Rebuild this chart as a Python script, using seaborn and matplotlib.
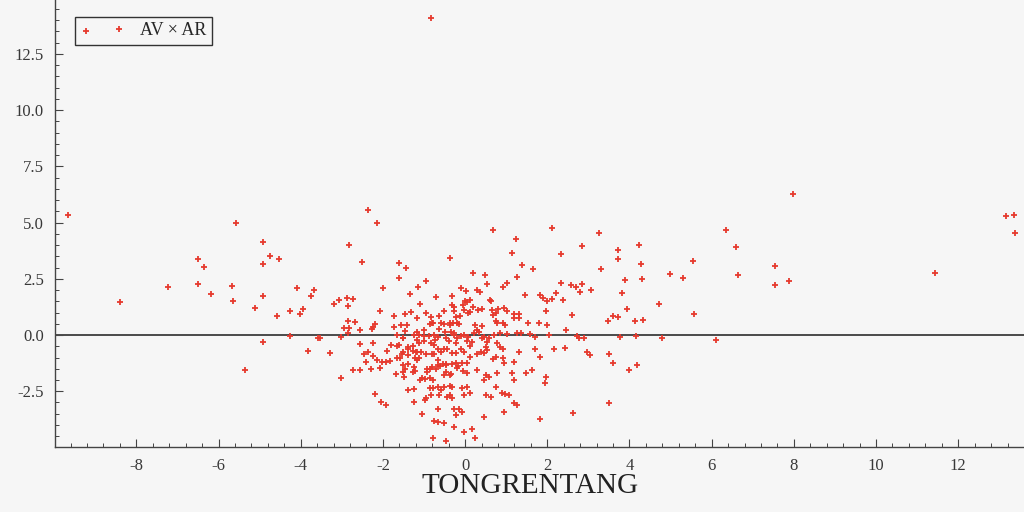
import matplotlib
matplotlib.use("Agg")
import matplotlib.pyplot as plt
import seaborn as sns
import pandas as pd
from matplotlib.ticker import MultipleLocator, FormatStrFormatter

# ---- data ----
pts_left = [
    (-9.67, 5.35), (-8.39, 1.47), (-7.22, 2.14), (-6.49, 3.37), (-6.35, 3.04), (-6.5, 2.26), (-6.18, 1.84),
    (-5.57, 5.0), (-5.67, 2.2), (-5.64, 1.51), (-5.35, -1.56), (-5.11, 1.22), (-4.92, 4.14), (-4.92, 3.15),
    (-4.74, 3.53), (-4.53, 3.37), (-4.92, 1.75), (-4.92, -0.33), (-4.58, 0.83), (-4.27, 1.08), (-4.01, 0.95),
    (-3.95, 1.16), (-4.08, 2.08), (-4.27, -0.06), (-3.75, 1.72), (-3.67, 2.02), (-3.83, -0.71), (-3.59, -0.15),
    (-3.53, -0.12), (-3.3, -0.8), (-3.02, -1.92), (-3.02, -0.1), (-3.18, 1.37), (-3.06, 1.56), (-2.88, 1.63),
    (-2.86, 1.28), (-2.83, 4.0), (-2.86, 0.61), (-2.94, 0.33), (-2.74, 1.6), (-2.68, 0.57), (-2.82, 0.31),
    (-2.86, 0.1), (-2.55, 0.21), (-2.27, 0.25), (-2.23, 0.37), (-2.19, 0.49), (-2.37, 5.55), (-2.14, 4.99),
    (-2.5, 3.24), (-1.62, 3.21), (-1.44, 2.98), (-1.62, 2.52), (-0.94, 2.41), (-0.37, 3.44), (-2.0, 2.08),
    (-1.15, 2.14), (-1.35, 1.84), (-0.71, 1.68), (-0.32, 1.75), (-0.11, 2.11), (-2.07, 1.08), (-1.74, 0.86),
    (-1.46, 0.95), (-1.32, 1.02), (-1.09, 1.37), (-0.94, 0.99), (-0.64, 0.85), (-0.51, 1.08), (-0.33, 1.32),
    (-0.26, 1.08), (-0.23, 0.79), (-1.17, 0.77), (-0.84, 14.12),
]
pts_right = [
    (0.69, 4.66), (2.11, 4.77), (1.23, 4.29), (3.26, 4.53), (1.14, 3.64), (2.85, 3.98), (2.34, 3.59),
    (3.72, 3.79), (3.72, 3.39), (1.39, 3.1), (1.66, 2.93), (0.18, 2.76), (0.48, 2.69), (1.27, 2.6),
    (0.54, 2.29), (0.91, 2.15), (1.03, 2.3), (0.01, 1.96), (0.3, 2.0), (0.36, 1.9), (0.63, 1.51), (0.0, 1.5),
    (0.13, 1.56), (1.45, 1.8), (1.82, 1.8), (1.89, 1.66), (2.0, 1.51), (2.12, 1.6), (2.22, 1.87), (2.34, 2.33),
    (2.58, 2.23), (2.71, 2.15), (2.84, 2.29), (2.79, 1.9), (3.07, 2.02), (3.3, 2.94), (2.37, 1.56), (1.98, 1.08),
    (2.6, 0.9), (3.61, 0.85), (4.24, 4.01), (4.28, 3.15), (4.31, 2.51), (3.9, 2.44), (3.81, 1.88), (4.99, 2.73),
    (5.29, 2.55), (5.54, 3.28), (6.35, 4.69), (6.6, 3.91), (6.64, 2.66), (7.55, 3.06), (7.55, 2.24), (7.88, 2.39),
    (7.97, 6.27), (11.44, 2.76), (13.16, 5.31), (13.36, 5.35), (13.39, 4.53), (3.95, 1.14), (3.47, 0.61),
    (3.72, 0.82), (4.14, 0.62), (4.34, 0.68), (4.73, 1.38), (5.58, 0.92), (2.46, 0.22), (2.43, -0.56),
    (2.72, -0.03), (2.76, -0.12), (2.9, -0.12), (2.96, -0.74), (3.03, -0.9), (3.49, -0.86), (3.59, -1.26),
    (3.77, -0.09), (4.17, -0.06), (4.0, -1.57), (4.18, -1.32), (4.79, -0.13), (6.1, -0.21), (3.5, -3.01),
    (2.62, -3.47),
]
pts_center_low = [
    (-1.73, 0.37), (-1.65, 0.0), (-2.55, -0.39), (-2.24, -0.34), (-1.91, -0.7), (-1.65, -0.49), (-2.47, -0.86),
    (-2.37, -0.76), (-2.4, -1.22), (-2.15, -1.11), (-2.03, -1.22), (-1.84, -1.17), (-2.57, -1.57), (-2.29, -1.5),
    (-2.07, -1.46), (-1.58, -1.04), (-2.2, -2.64), (-2.05, -2.97), (-1.93, -3.12),
    (-1.57, 0.43), (-1.42, 0.43), (-1.47, 0.19), (-1.5, -0.13), (-1.24, 0.0), (-1.12, 0.0), (-1.0, -0.06),
    (-0.87, -0.03), (-0.76, -0.01), (-1.17, 0.15), (-1.01, 0.22), (-0.85, 0.48), (-0.8, 0.53), (-0.63, 0.25),
    (-0.48, 0.15), (-0.35, 0.12), (-0.38, 0.43), (-0.3, 0.53), (-0.27, 0.0), (-0.19, -0.15), (-0.11, -0.03),
    (-0.73, -0.21), (-1.18, -0.24), (-0.52, -0.61), (-0.45, -0.62), (-1.0, -0.25), (-1.28, -0.71), (-1.17, -0.77),
    (-1.08, -0.77), (-0.95, -0.85), (-0.81, -0.83), (-0.76, -0.86), (-1.38, -0.64), (-1.53, -0.85), (-1.23, -1.04),
    (-1.16, -1.1), (-1.39, -1.28), (-1.65, -1.04), (-2.25, -0.92), (-1.92, -1.2), (-2.72, -1.56), (-1.24, -1.41),
    (-1.23, -1.59), (-1.06, -1.93), (-0.98, -1.97), (-0.86, -1.93), (-0.78, -2.0), (-1.5, -1.66), (-1.48, -1.88),
    (-0.8, -1.41), (-0.72, -1.51), (-0.92, -1.51), (-0.6, -1.37), (-0.54, -1.31), (-0.51, -1.78), (-0.38, -1.78),
    (-0.46, -1.29), (-0.33, -1.28), (-0.67, -1.11), (-0.19, -1.48), (-1.4, -2.45), (-1.24, -2.41), (-1.24, -3.0),
    (-0.98, -2.91), (-1.04, -3.52), (-0.77, -2.35), (-0.67, -2.3), (-0.51, -2.3), (-0.31, -2.3), (-0.64, -2.67),
    (-0.43, -2.75), (-0.31, -2.82), (-0.66, -3.27), (-0.27, -3.3), (-0.76, -3.83), (-0.67, -3.86), (-0.51, -3.93),
    (-0.27, -4.08), (-0.77, -4.56), (-0.46, -4.72), (-0.38, -2.26), (-0.03, -4.33), (0.17, -4.16), (0.25, -4.56),
]
pts_center = [
    (-0.26, 1.26), (-0.05, 1.34), (0.05, 1.48), (-0.03, 1.11), (0.13, 1.04), (0.2, 1.23), (0.32, 1.11),
    (0.42, 1.14), (0.6, 1.56), (0.66, 1.11), (0.74, 0.97), (0.81, 1.14), (0.94, 1.19), (1.01, 1.08), (1.18, 0.92),
    (1.32, 0.92), (1.18, 0.74), (1.31, 0.74), (-0.84, 0.82), (-0.79, 0.55), (-0.59, 0.55), (-0.51, 0.48),
    (-0.38, 0.55), (-0.19, 0.55), (-0.13, 0.85), (-0.15, 0.48), (0.07, 0.97), (0.25, 0.45), (0.3, 0.22),
    (0.42, 0.4), (0.67, 0.89), (0.74, 0.64), (0.78, 0.52), (0.91, 0.52), (0.96, 0.45), (1.52, 0.52), (1.79, 0.52),
    (2.0, 0.45), (-0.67, -0.07), (-0.47, -0.15), (-0.27, 0.07), (-0.03, 0.0), (0.08, -0.1), (0.21, 0.07),
    (0.34, 0.15), (0.46, -0.07), (0.58, -0.15), (0.7, 0.0), (0.86, 0.07), (1.02, 0.03), (1.27, 0.07), (1.35, 0.07),
    (1.57, 0.03), (2.03, 0.0), (1.71, -0.07), (-1.81, -0.45), (-1.52, -0.15), (-1.4, -0.52), (-1.28, -0.48),
    (-1.12, -0.34), (-0.84, -0.37), (-0.76, -0.45), (-0.39, -0.27), (-0.23, -0.37), (0.05, -0.27), (0.12, -0.48),
    (0.17, -0.3), (0.42, -0.15), (0.54, -0.3), (0.5, -0.52), (0.78, -0.37), (0.86, -0.52), (2.16, -0.6),
    (-1.6, -0.45), (-1.52, -0.74), (-1.4, -0.89), (-1.2, -0.74), (-1.12, -1.04), (-0.67, -0.6), (-0.59, -0.74),
    (-0.33, -0.82), (-0.22, -0.79), (-0.11, -0.6), (-0.03, -0.74), (0.13, -0.97), (0.3, -0.85), (0.38, -0.74),
    (0.47, -0.82), (0.54, -0.67), (0.67, -1.07), (0.74, -0.97), (0.93, -0.64), (0.92, -1.01), (1.18, -1.19),
    (1.31, -0.74), (1.69, -0.64), (1.82, -0.97), (1.63, -1.56), (1.49, -1.71), (1.97, -1.86), (1.95, -2.15),
    (-1.52, -1.34), (-1.47, -1.53), (-1.1, -2.0), (-0.92, -1.63), (-0.85, -1.53), (-0.67, -1.34), (-0.47, -1.34),
    (-0.47, -1.63), (-0.35, -1.74), (-0.23, -1.26), (-0.17, -1.37), (-0.07, -1.26), (0.05, -1.23), (-0.04, -1.59),
    (0.05, -1.71), (0.3, -1.56), (0.46, -2.0), (0.58, -1.86), (0.5, -1.78), (0.78, -1.71), (0.94, -1.23),
    (1.15, -1.71), (1.18, -2.0), (-0.86, -2.37), (-0.84, -2.67), (-0.96, -2.82), (-0.59, -2.45), (-0.37, -2.67),
    (-0.07, -2.37), (0.05, -2.3), (-0.03, -2.67), (0.13, -2.6), (0.5, -2.67), (0.62, -2.75), (0.74, -2.3),
    (0.9, -2.6), (0.98, -2.64), (1.06, -2.67), (1.2, -3.01), (1.27, -3.12), (0.94, -3.42), (0.46, -3.64),
    (1.82, -3.74), (-0.15, -3.27), (-0.07, -3.42), (-0.23, -3.56), (-1.69, -1.74), (-1.28, -1.63),
]

x_vals = [p[0] for p in pts_left + pts_right + pts_center_low + pts_center]
y_vals = [p[1] for p in pts_left + pts_right + pts_center_low + pts_center]
series_label = "AV × AR"
x_label = "TONGRENTANG"

# ---- styling ----
sns.set_style("ticks")
plt.rcParams["font.family"] = ["Liberation Serif", "DejaVu Serif"]
plt.rcParams["axes.unicode_minus"] = False
BG = "#f6f6f6"
RED = "#e63a2e"
AXC = "#444444"

fig = plt.figure(figsize=(10.24, 5.12), dpi=100, facecolor=BG)
ax = fig.add_axes([55 / 1024, 1 - 447 / 512, 1 - 55 / 1024, 447 / 512])
ax.set_facecolor(BG)

df = pd.DataFrame({"x": x_vals, "y": y_vals})
sns.scatterplot(data=df, x="x", y="y", ax=ax, marker="+", s=18, linewidth=1.3,
                color=RED, label=series_label, zorder=3)

ax.axhline(0, color="#4a4a4a", lw=1.4, zorder=2)

ax.set_xlim(-9.98, 13.6)
ax.set_ylim(-4.98, 14.9)
ax.xaxis.set_major_locator(MultipleLocator(2))
ax.xaxis.set_minor_locator(MultipleLocator(0.4))
ax.yaxis.set_major_locator(MultipleLocator(2.5))
ax.yaxis.set_minor_locator(MultipleLocator(0.5))
ax.yaxis.set_major_formatter(FormatStrFormatter("%.1f"))

ax.tick_params(axis="both", which="major", direction="in", length=6, width=0.8,
               color=AXC, labelsize=12, labelcolor="#383838")
ax.tick_params(axis="both", which="minor", direction="in", length=3, width=0.7, color=AXC)
ax.tick_params(axis="x", which="major", pad=8)
ax.tick_params(axis="y", which="major", pad=8)

for side in ["top", "right"]:
    ax.spines[side].set_visible(False)
for side in ["left", "bottom"]:
    ax.spines[side].set_color(AXC)
    ax.spines[side].set_linewidth(1.0)

ax.set_ylabel("")
ax.set_xlabel(x_label, fontsize=21, color="#222222")
ax.xaxis.set_label_coords(0.49, -0.058)

leg = ax.legend(loc="upper left", bbox_to_anchor=(0.021, 0.962), scatterpoints=2,
                frameon=True, fancybox=False, edgecolor="#333333", facecolor=BG,
                framealpha=1, fontsize=13, borderpad=0.3, handletextpad=0.9,
                handlelength=2.4, borderaxespad=0)
leg.get_frame().set_linewidth(1.0)

fig.savefig("out.png", dpi=100, facecolor=BG)
